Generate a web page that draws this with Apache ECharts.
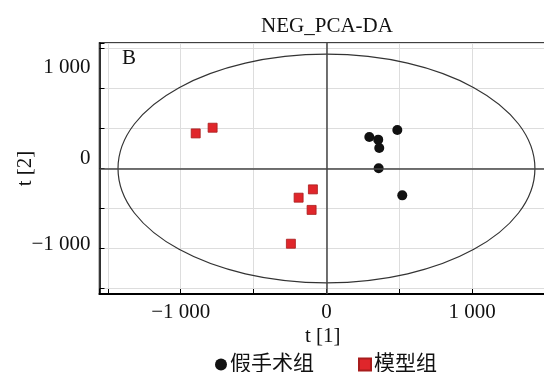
<!DOCTYPE html>
<html>
<head>
<meta charset="utf-8">
<script src="https://cdn.jsdelivr.net/npm/echarts@6/dist/echarts.min.js"></script>
<style>
  html, body { margin: 0; padding: 0; background: #fff; }
  #chart { width: 544px; height: 372px; }
</style>
</head>
<body>
<div id="chart"></div>
<script>
// t[1], t[2] scores
const shamX = [486, 294, 355, 362, 358, 520];
const shamY = [481, 394, 361, 257, 4, -336];
const modelX = [-897, -781, -93, -191, -102, -244];
const modelY = [439, 510, -261, -365, -518, -941];
const seriesNames = ['假手术组', '模型组'];
// Hotelling ellipse (centre x, centre y, radius t1, radius t2)
const ellipse = [[0, 0, 1430, 1430]];

const serif = "'Liberation Serif', 'Noto Sans CJK SC', serif";

function num(v) {
  const a = Math.abs(v);
  const s = a >= 1000 ? Math.floor(a / 1000) + ' ' + String(a % 1000).padStart(3, '0') : String(a);
  return (v < 0 ? '\u2212' : '') + s;
}
function fmtX(v) {
  return v % 1000 === 0 ? num(v) : '';
}
// the y labels in the original sit a little above their ticks
function fmtY(v) {
  if (v % 1000 !== 0) return '';
  const k = v > 0 ? 'p' : (v < 0 ? 'n' : 'z');
  return '{' + k + '|' + num(v) + '}';
}

const zip = (xs, ys) => xs.map((x, i) => [x, ys[i]]);

const chart = echarts.init(document.getElementById('chart'));
chart.setOption({
  animation: false,
  textStyle: { fontFamily: serif },
  title: {
    text: 'NEG_PCA-DA',
    left: 322,
    textAlign: 'center',
    top: 11,
    textStyle: { fontFamily: serif, fontSize: 21, fontWeight: 'normal', color: '#111' }
  },
  graphic: [{
    type: 'text',
    left: 122,
    top: 48,
    style: { text: 'B', font: '21px ' + serif, fill: '#111' }
  }],
  legend: {
    data: [
      { name: seriesNames[0], icon: 'circle' },
      { name: seriesNames[1], icon: 'rect' }
    ],
    left: 210,
    top: 349,
    itemWidth: 12,
    itemHeight: 12,
    itemGap: 44,
    textStyle: { fontFamily: serif, fontSize: 21, color: '#111', padding: [0, 0, 0, -2] }
  },
  grid: {
    left: 99.5,
    right: -2,
    top: 43,
    bottom: 78,
    outerBoundsMode: 'none',
    show: true,
    borderColor: '#000',
    borderWidth: 1.5
  },
  xAxis: {
    type: 'value',
    min: -1557,
    max: 1506,
    name: 't [1]',
    nameLocation: 'middle',
    nameGap: 32,
    nameMoveOverlap: false,
    nameTextStyle: { fontFamily: serif, fontSize: 21, color: '#111' },
    axisLine: { onZero: false, lineStyle: { color: '#000', width: 2 } },
    axisTick: { inside: true, length: 5, lineStyle: { color: '#000' } },
    axisLabel: { formatter: fmtX, fontFamily: serif, fontSize: 21, color: '#111', margin: 8 },
    splitLine: { lineStyle: { color: '#ddd' } }
  },
  yAxis: {
    type: 'value',
    min: -1570,
    max: 1570,
    name: 't [2]',
    nameLocation: 'middle',
    nameRotate: 90,
    nameGap: 64,
    nameMoveOverlap: false,
    nameTextStyle: { fontFamily: serif, fontSize: 21, color: '#111' },
    axisLine: { onZero: false, lineStyle: { color: '#000', width: 1.5 } },
    axisTick: { inside: true, length: 5, lineStyle: { color: '#000' } },
    axisLabel: {
      formatter: fmtY,
      fontFamily: serif,
      fontSize: 21,
      color: '#111',
      margin: 9,
      rich: {
        p: { fontFamily: serif, fontSize: 21, color: '#111', padding: [0, 0, 42, 0] },
        z: { fontFamily: serif, fontSize: 21, color: '#111', padding: [0, 0, 20, 0] },
        n: { fontFamily: serif, fontSize: 21, color: '#111', padding: [0, 0, 8, 0] }
      }
    },
    splitLine: { lineStyle: { color: '#ddd' } }
  },
  series: [
    {
      type: 'custom',
      name: 'ellipse',
      silent: true,
      data: ellipse,
      renderItem: function (params, api) {
        const c = api.coord([api.value(0), api.value(1)]);
        const s = api.size([api.value(2), api.value(3)]);
        return {
          type: 'ellipse',
          shape: { cx: c[0], cy: c[1], rx: s[0], ry: s[1] },
          style: { fill: 'none', stroke: '#333', lineWidth: 1.2 }
        };
      },
      markLine: {
        silent: true,
        symbol: 'none',
        label: { show: false },
        lineStyle: { color: '#444', width: 1.5, type: 'solid' },
        data: [{ xAxis: 0 }, { yAxis: 0 }]
      }
    },
    {
      type: 'scatter',
      name: seriesNames[0],
      symbol: 'circle',
      symbolSize: 10,
      itemStyle: { color: '#111', opacity: 1 },
      data: zip(shamX, shamY)
    },
    {
      type: 'scatter',
      name: seriesNames[1],
      symbol: 'rect',
      symbolSize: 9,
      itemStyle: { color: '#e0262b', borderColor: '#a81c1c', borderWidth: 0.8, opacity: 1 },
      data: zip(modelX, modelY)
    }
  ]
});
</script>
</body>
</html>
